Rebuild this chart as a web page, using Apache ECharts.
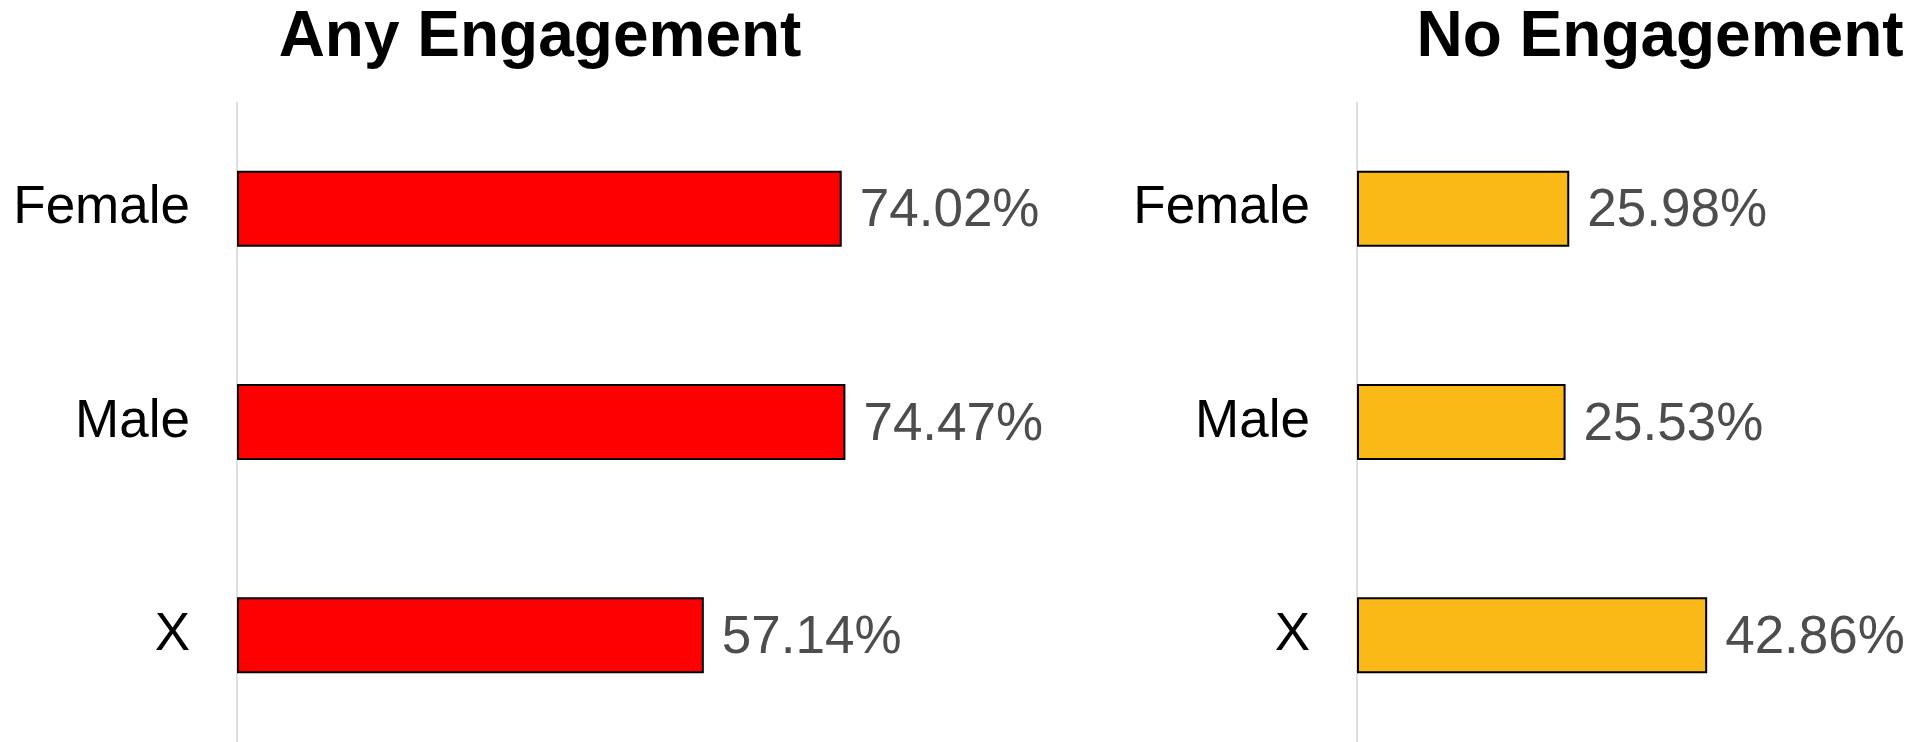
<!DOCTYPE html>
<html>
<head>
<meta charset="utf-8">
<title>Engagement by gender</title>
<script src="https://cdn.jsdelivr.net/npm/echarts@6/dist/echarts.min.js"></script>
<style>
  html, body { margin: 0; padding: 0; background: #fff; }
  #chart { width: 1913px; height: 742px; }
</style>
</head>
<body>
<div id="chart"></div>
<script>
  "use strict";

  // data
  const genders = ["Female", "Male", "X"];
  const anyEngagement = [74.02, 74.47, 57.14];
  const noEngagement = [25.98, 25.53, 42.86];
  const panelTitles = ["Any Engagement", "No Engagement"];

  const FONT = "'Liberation Sans', Arial, Helvetica, sans-serif";
  const PX_PER_PCT = 8.17; // both panels share the same scale

  const chart = echarts.init(document.getElementById("chart"));

  function valueAxis(gridIndex, max) {
    return {
      type: "value", gridIndex: gridIndex, min: 0, max: max,
      show: false, splitLine: { show: false }
    };
  }

  function catAxis(gridIndex) {
    return {
      type: "category", gridIndex: gridIndex, data: genders, inverse: true,
      axisLine: { show: true, lineStyle: { color: "#d6d6d6", width: 1.5 } },
      axisTick: { show: false },
      axisLabel: {
        color: "#000", fontFamily: FONT, fontSize: 53, margin: 47,
        padding: [5, 0, 0, 0]
      }
    };
  }

  function barSeries(idx, values, color) {
    return {
      type: "bar", xAxisIndex: idx, yAxisIndex: idx, data: values,
      barWidth: 76,
      itemStyle: { color: color, borderColor: "#000", borderWidth: 2 },
      label: {
        show: true, position: "right", distance: 18, offset: [0, 3],
        color: "#4d4d4d", fontFamily: FONT, fontSize: 53,
        formatter: p => p.value.toFixed(2) + "%"
      },
      silent: true
    };
  }

  chart.setOption({
    animation: false,
    backgroundColor: "#fff",
    title: [
      {
        text: panelTitles[0], left: 535, top: 1, textAlign: "center",
        textStyle: { fontFamily: FONT, fontSize: 64, fontWeight: "bold", color: "#000" }
      },
      {
        text: panelTitles[1], left: 1655, top: 1, textAlign: "center",
        textStyle: { fontFamily: FONT, fontSize: 64, fontWeight: "bold", color: "#000" }
      }
    ],
    grid: [
      { left: 237, top: 102, width: PX_PER_PCT * 80, height: 640 },
      { left: 1357, top: 102, width: PX_PER_PCT * 60, height: 640 }
    ],
    xAxis: [valueAxis(0, 80), valueAxis(1, 60)],
    yAxis: [catAxis(0), catAxis(1)],
    series: [
      barSeries(0, anyEngagement, "#ff0000"),
      barSeries(1, noEngagement, "#fbb917")
    ]
  });
</script>
</body>
</html>
